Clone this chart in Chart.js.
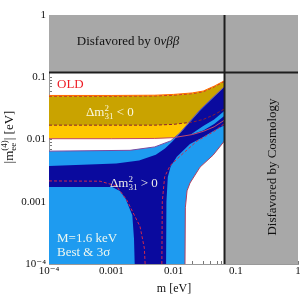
<!DOCTYPE html>
<html>
<head>
<meta charset="utf-8">
<script src="https://cdn.jsdelivr.net/npm/chart.js@4.4.1/dist/chart.umd.min.js"></script>
<style>
  html, body { margin: 0; padding: 0; background: #fff; }
  canvas { display: block; }
</style>
</head>
<body>
<canvas id="chart" width="300" height="298"></canvas>
<script>
// Axis ticks
const tickValues = [1e-4, 0.001, 0.01, 0.1, 1];
const xTickLabels = ['10\u207B\u2074', '0.001', '0.01', '0.1', '1'];
const yTickLabels = ['10\u207B\u2074', '0.001', '0.01', '0.1', '1'];

// Limits (eV)
const cosmoLimit = 0.066;
const onbbLimit = 0.119;

// Inverted ordering, Dm31^2 < 0
const ioMass      = [1e-4, 0.001, 0.005, 0.01, 0.02, 0.03, 0.045, 0.066];
const io3sUpper   = [0.051, 0.051, 0.0515, 0.053, 0.056, 0.06, 0.072, 0.088];
const ioBestUpper = [0.0495, 0.0495, 0.05, 0.0515, 0.0545, 0.0585, 0.07, 0.086];
const ioBestLower = [0.017, 0.017, 0.017, 0.0175, 0.019, 0.021, 0.025, 0.031];
const io3sLower   = [0.0103, 0.0103, 0.0104, 0.0107, 0.012, 0.0135, 0.016, 0.0205];

// Normal ordering, Dm31^2 > 0 : best fit region
const noBestTopMass = [1e-4, 0.0012, 0.0028, 0.0052, 0.0073, 0.0095, 0.0127, 0.0267, 0.0465, 0.066];
const noBestTop     = [0.00375, 0.0041, 0.0046, 0.0057, 0.0072, 0.0092, 0.0125, 0.029, 0.05, 0.07];
const noBestLowMass = [0.0076, 0.0077, 0.0081, 0.009, 0.0113, 0.0184, 0.03, 0.045, 0.066];
const noBestLow     = [1e-4, 0.001, 0.0025, 0.0037, 0.0053, 0.0085, 0.011, 0.014, 0.017];
// 3 sigma gap between the two best fit branches (upper right)
const noGapMass     = [0.0184, 0.03, 0.045, 0.066];
const noGapTop      = [0.0118, 0.0165, 0.021, 0.029];
const noGapLow      = [0.0118, 0.014, 0.0178, 0.024];
// 3 sigma region
const no3sTopMass   = [1e-4, 0.002, 0.005, 0.009, 0.0127, 0.0267, 0.0465, 0.066];
const no3sTop       = [0.0065, 0.0067, 0.0076, 0.0095, 0.0128, 0.03, 0.051, 0.071];
const no3sRightMass = [0.0153, 0.0155, 0.0165, 0.0184, 0.0267, 0.0432, 0.066];
const no3sRight     = [1e-4, 0.0008, 0.0015, 0.002, 0.0036, 0.0056, 0.0095];
// 3 sigma hole inside the best region (lower left)
const noHoleMass    = [1e-4, 0.00103, 0.00138, 0.0017, 0.00218, 0.00232, 0.00238];
const noHole        = [0.00173, 0.00173, 0.00149, 0.00112, 0.000606, 0.000255, 1e-4];

// OLD contours (dashed)
const oldAMass = [1e-4, 0.00066, 0.0012, 0.00177, 0.0029, 0.0034, 0.0035];
const oldA     = [0.00216, 0.00214, 0.0018, 0.00107, 0.0004, 0.00018, 1e-4];
const oldBMass = [0.0065, 0.0066, 0.0072, 0.0088, 0.013, 0.024, 0.045, 0.066];
const oldB     = [1e-4, 0.001, 0.0025, 0.0038, 0.0055, 0.0095, 0.0135, 0.018];

const SERIF = '"Liberation Serif", "DejaVu Serif", serif';
Chart.defaults.font.family = SERIF;

const pts = (xs, ys) => xs.map((x, i) => ({ x: x, y: ys[i] }));
const X0 = tickValues[0], X1 = tickValues[tickValues.length - 1];

function area(points, color) {
    return { data: points, showLine: true, fill: 'shape', backgroundColor: color,
             borderWidth: 0, pointRadius: 0 };
}
function curve(points, color, width, dash) {
    return { data: points, showLine: true, fill: false, borderColor: color,
             borderWidth: width, borderDash: dash || [], pointRadius: 0 };
}

const LIGHT = '#1e9bf0', DARK = '#0a0a9e', GREY = '#a8a8a8';

// listed bottom layer first
const layers = [
    area([...pts(ioMass, io3sUpper), ...pts(ioMass, io3sLower).reverse()], '#ffc800'),
    area([...pts(ioMass, ioBestUpper), ...pts(ioMass, ioBestLower).reverse()], '#c9a300'),
    area([...pts(no3sTopMass, no3sTop), ...pts(no3sRightMass, no3sRight).reverse(), { x: X0, y: X0 }], LIGHT),
    area([...pts(noBestTopMass, noBestTop), ...pts(noBestLowMass, noBestLow).reverse(), { x: X0, y: X0 }], DARK),
    area([...pts(noHoleMass, noHole), { x: X0, y: X0 }], LIGHT),
    area([...pts(noGapMass, noGapTop), ...pts(noGapMass, noGapLow).reverse()], LIGHT),
    curve(pts(oldAMass, oldA), '#d0284a', 1, [3, 2]),
    curve(pts(oldBMass, oldB), '#d0284a', 1, [3, 2]),
    curve(pts(ioMass, ioBestUpper), '#c0283a', 1, [3, 2]),
    curve(pts(ioMass, ioBestLower), '#8a2030', 1, [3, 2]),
    curve(pts(ioMass, io3sUpper), '#ff6a00', 1),
    curve(pts(ioMass, io3sLower), '#c04a6a', 1),
    curve(pts(no3sTopMass, no3sTop), '#7a4aa0', 1),
    curve(pts(no3sRightMass, no3sRight), '#b04060', 1),
    area([{ x: X0, y: onbbLimit }, { x: cosmoLimit, y: onbbLimit }, { x: cosmoLimit, y: X1 }, { x: X0, y: X1 }], GREY),
    area([{ x: cosmoLimit, y: X0 }, { x: X1, y: X0 }, { x: X1, y: X1 }, { x: cosmoLimit, y: X1 }], GREY),
    curve([{ x: X0, y: onbbLimit }, { x: X1, y: onbbLimit }], '#1e1e1e', 2),
    curve([{ x: cosmoLimit, y: X0 }, { x: cosmoLimit, y: X1 }], '#1e1e1e', 2)
];
layers.forEach((d, i) => { d.order = -i; });

function tickLabel(v, labels) {
    const i = tickValues.findIndex(t => Math.abs(Math.log10(v / t)) < 1e-6);
    return i < 0 ? '' : labels[i];
}

function runWidth(ctx, runs) {
    let w = 0;
    runs.forEach(r => { ctx.font = r.font; if (r.adv !== false) w += ctx.measureText(r.t).width; });
    return w;
}
function drawRuns(ctx, runs, x, y) {
    runs.forEach(r => {
        ctx.font = r.font;
        ctx.fillText(r.t, x, y + (r.dy || 0));
        if (r.adv !== false) x += ctx.measureText(r.t).width;
    });
}
const f = (size, style) => (style || '') + ' ' + size + 'px ' + SERIF;

function deltaRuns(rel) {
    return [
        { t: '\u0394m', font: f(13) },
        { t: '2', font: f(9), dy: -5, adv: false },
        { t: '31', font: f(9), dy: 3 },
        { t: ' ' + rel + ' 0', font: f(13) }
    ];
}

const annotations = {
    id: 'annotations',
    afterDatasetsDraw(chart) {
        const ctx = chart.ctx;
        ctx.save();
        ctx.textBaseline = 'alphabetic';
        ctx.textAlign = 'left';

        // 0vbb region
        ctx.fillStyle = '#111';
        const nbb = [
            { t: 'Disfavored by 0', font: f(13) },
            { t: '\u03BD\u03B2\u03B2', font: f(13, 'italic') }
        ];
        drawRuns(ctx, nbb, 128 - runWidth(ctx, nbb) / 2, 45);

        // cosmology region
        ctx.save();
        ctx.translate(276, 167);
        ctx.rotate(-Math.PI / 2);
        ctx.font = f(13);
        ctx.textAlign = 'center';
        ctx.fillText('Disfavored by Cosmology', 0, 0);
        ctx.restore();

        ctx.fillStyle = '#ee1c25';
        ctx.font = f(13);
        ctx.fillText('OLD', 57, 88);

        ctx.fillStyle = 'rgba(255,255,240,0.92)';
        drawRuns(ctx, deltaRuns('<'), 86, 116);
        drawRuns(ctx, deltaRuns('>'), 110, 187);
        ctx.font = f(13);
        ctx.fillText('M=1.6 keV', 57, 242);
        ctx.fillText('Best & 3\u03C3', 57, 256);

        // axis titles
        ctx.fillStyle = '#111';
        ctx.font = f(12);
        ctx.textAlign = 'center';
        ctx.fillText('m [eV]', 174, 292);
        ctx.textAlign = 'left';
        const yt = [
            { t: '|m', font: f(13) },
            { t: 'ee', font: f(9), dy: 3, adv: false },
            { t: '(4)', font: f(9), dy: -6 },
            { t: '| [eV]', font: f(13) }
        ];
        ctx.save();
        ctx.translate(13, 137);
        ctx.rotate(-Math.PI / 2);
        drawRuns(ctx, yt, -runWidth(ctx, yt) / 2, 0);
        ctx.restore();
        ctx.restore();
    }
};

new Chart(document.getElementById('chart'), {
    type: 'scatter',
    data: { datasets: layers },
    options: {
        responsive: false,
        animation: false,
        devicePixelRatio: 1,
        layout: { padding: { top: 15, right: 2, left: 0, bottom: 0 } },
        plugins: { legend: { display: false }, tooltip: { enabled: false } },
        elements: { point: { radius: 0 }, line: { tension: 0 } },
        scales: {
            x: {
                type: 'logarithmic', min: X0, max: X1,
                grid: { drawOnChartArea: false, tickLength: -3, color: '#777' },
                border: { display: true, color: '#999', width: 1 },
                ticks: { autoSkip: false, maxRotation: 0, padding: 4, color: '#111',
                         font: { size: 11 }, callback: v => tickLabel(v, xTickLabels) },
                afterFit(s) { s.height = 34; s.paddingLeft = 0; s.paddingRight = 0; }
            },
            y: {
                type: 'logarithmic', min: X0, max: X1,
                grid: { drawOnChartArea: false, tickLength: -3, color: '#777' },
                border: { display: true, color: '#999', width: 1 },
                ticks: { autoSkip: false, padding: 6, color: '#111',
                         font: { size: 11 }, callback: v => tickLabel(v, yTickLabels) },
                afterFit(s) { s.width = 49; s.paddingTop = 0; s.paddingBottom = 0; }
            }
        }
    },
    plugins: [annotations]
});
</script>
</body>
</html>
